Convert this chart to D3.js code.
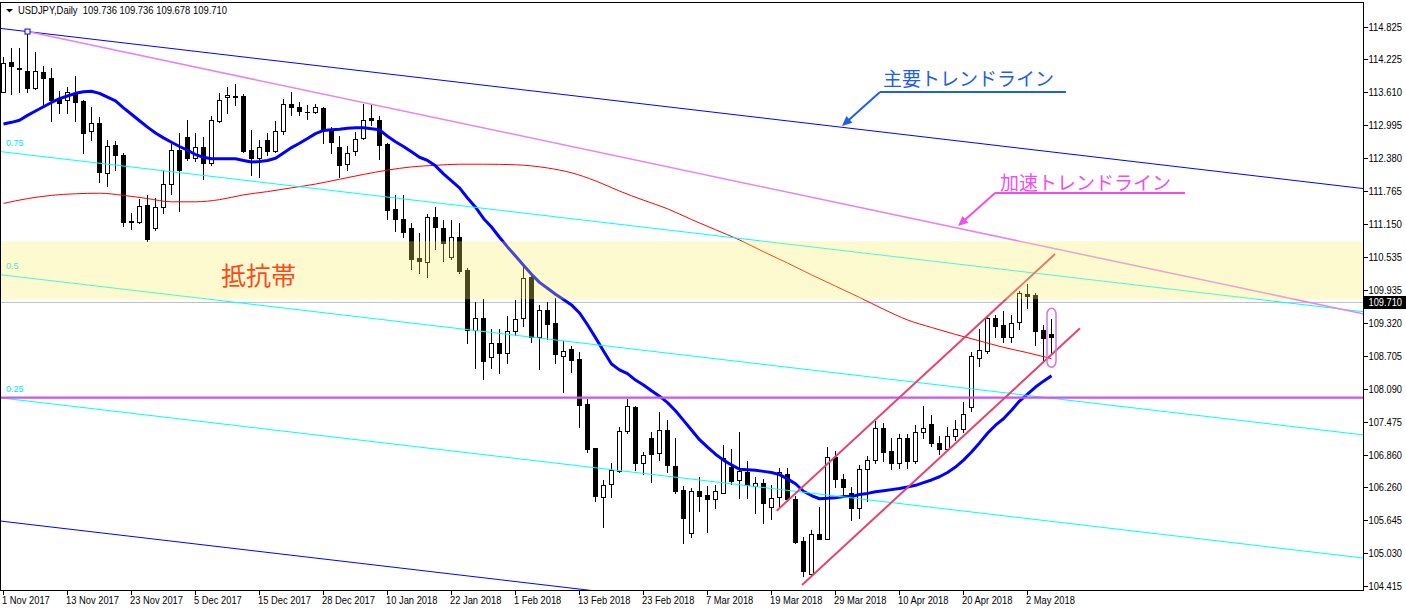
<!DOCTYPE html>
<html><head><meta charset="utf-8">
<script src="https://cdn.jsdelivr.net/npm/d3@7/dist/d3.min.js"></script>
<style>html,body{margin:0;padding:0;background:#fff;overflow:hidden}svg{display:block}</style>
</head><body>
<svg id="chart" width="1406" height="611"></svg>
<script>
// ---------------- DATA ----------------
const symbolHeader = "USDJPY,Daily  109.736 109.736 109.678 109.710";
const xLabels = ["1 Nov 2017","13 Nov 2017","23 Nov 2017","5 Dec 2017","15 Dec 2017","28 Dec 2017","10 Jan 2018","22 Jan 2018","1 Feb 2018","13 Feb 2018","23 Feb 2018","7 Mar 2018","19 Mar 2018","29 Mar 2018","10 Apr 2018","20 Apr 2018","2 May 2018"];
const xLabelBars = [0,8,16,24,32,40,48,56,64,72,80,88,96,104,112,120,128];
const yTicks = [114.825,114.225,113.610,112.995,112.380,111.765,111.150,110.535,109.935,109.320,108.705,108.090,107.475,106.860,106.260,105.645,105.030,104.415];
const lastPrice = 109.710;

const open = [113.62,114.17,114.07,114.01,113.68,113.99,113.87,113.50,113.47,113.59,
113.45,112.89,113.03,112.10,112.62,112.44,111.21,111.19,111.51,111.08,
111.48,111.91,112.54,112.78,112.38,112.59,112.29,113.08,113.52,113.54,
113.54,112.54,112.38,112.72,112.52,112.88,113.39,113.33,113.25,113.24,
113.32,112.88,112.59,112.27,112.52,112.75,113.13,113.09,112.65,111.44,
111.25,111.08,110.52,110.45,111.29,111.08,110.54,110.91,110.30,109.18,
109.41,108.68,108.94,108.75,109.16,109.41,110.17,109.05,109.56,109.31,
108.70,108.83,108.64,107.80,106.99,106.08,106.31,106.56,107.31,107.75,
106.71,107.18,106.89,107.32,106.65,106.20,105.41,106.19,106.11,106.04,
106.15,106.64,106.39,106.53,106.28,106.33,105.88,106.07,106.51,106.04,
105.25,104.63,105.38,105.30,106.82,106.40,106.14,105.86,106.59,106.76,
107.35,106.93,106.71,107.17,106.75,107.28,107.44,107.07,106.97,107.20,
107.33,107.75,108.67,108.80,109.40,109.28,109.05,109.33,109.85,109.83,
109.18,109.11];
const high = [114.27,114.43,114.43,114.74,114.36,114.09,114.07,113.63,113.71,113.91,
113.47,113.34,113.14,112.72,112.70,112.47,111.37,111.62,111.70,111.65,
112.15,112.65,112.85,113.09,112.85,112.78,113.17,113.60,113.71,113.76,
113.58,112.91,112.73,112.85,113.08,113.48,113.61,113.43,113.37,113.39,
113.34,112.97,112.80,112.60,112.87,113.39,113.39,113.17,112.66,111.70,
111.70,111.18,110.99,111.34,111.47,111.23,111.23,111.18,110.34,109.70,
109.76,109.20,109.20,109.44,109.74,110.39,110.21,109.65,109.70,109.78,
108.98,108.89,108.77,107.90,106.99,106.39,106.70,107.38,107.90,107.77,
106.91,107.28,107.66,107.51,107.18,106.28,106.24,106.45,106.28,106.30,
107.04,106.97,107.29,106.75,106.45,106.40,106.29,106.61,106.61,106.10,
105.32,105.45,105.89,107.01,106.93,106.51,106.26,106.67,106.84,107.48,
107.45,107.18,107.25,107.25,107.41,107.77,107.60,107.21,107.38,107.51,
107.85,108.78,109.20,109.46,109.46,109.54,109.46,109.90,110.04,109.87,
109.28,109.38];
const low = [113.61,113.58,113.62,113.62,113.67,113.37,113.08,113.22,113.23,113.08,
112.47,112.73,111.93,111.87,112.16,111.12,111.06,111.18,110.84,111.05,
111.36,111.72,111.39,112.35,112.33,111.99,112.26,113.06,113.23,113.37,
112.50,112.07,112.03,112.44,112.50,112.83,113.19,113.19,113.12,113.22,
112.66,112.47,112.04,112.16,112.44,112.74,113.00,112.36,111.25,111.03,
110.91,110.32,110.24,110.17,110.69,110.47,110.51,110.24,108.94,108.48,
108.27,108.48,108.38,108.57,109.09,109.26,108.96,108.46,109.02,108.57,
108.03,108.40,107.38,106.91,106.00,105.52,106.07,106.54,107.26,106.58,
106.51,106.35,106.76,106.54,106.14,105.22,105.32,105.82,105.43,105.86,
106.14,106.31,106.05,106.05,105.77,105.58,105.66,105.89,106.00,105.22,
104.61,104.61,105.29,105.29,106.26,106.09,105.64,105.68,105.99,106.70,
106.75,106.59,106.61,106.61,106.70,107.18,107.02,106.87,106.96,107.13,
107.28,107.67,108.51,108.76,109.05,108.95,108.95,109.21,109.59,108.90,
108.62,108.74];
const close = [114.16,114.09,114.05,113.68,114.01,113.87,113.47,113.41,113.62,113.43,
112.86,113.03,112.13,112.61,112.44,111.20,111.19,111.49,110.88,111.47,
111.91,112.54,112.16,112.38,112.59,112.29,113.09,113.47,113.55,113.53,
112.52,112.38,112.59,112.52,112.88,113.39,113.33,113.27,113.24,113.34,
112.91,112.68,112.26,112.48,112.74,113.09,113.09,112.63,111.42,111.25,
111.01,110.51,110.47,111.29,111.10,110.80,110.91,110.28,109.18,109.41,
108.61,108.94,108.75,109.16,109.39,110.15,109.05,109.56,109.29,108.74,
108.79,108.63,107.79,106.97,106.09,106.29,106.58,107.30,107.77,106.71,
106.86,106.87,107.32,106.66,106.19,105.69,106.19,106.09,106.03,106.19,
106.79,106.38,106.56,106.30,106.33,105.96,106.06,106.53,106.03,105.23,
104.70,105.38,105.30,106.81,106.40,106.25,105.86,106.59,106.76,107.35,
106.92,106.71,107.17,106.75,107.28,107.35,107.07,106.97,107.20,107.33,
107.62,108.69,108.81,109.40,109.26,109.05,109.31,109.87,109.82,109.17,
109.03,109.06];

// blue moving average, one value per bar
const maBlue = [113.02,113.05,113.09,113.18,113.26,113.34,113.42,113.49,113.54,113.59,
113.62,113.63,113.59,113.52,113.45,113.32,113.20,113.08,112.96,112.85,
112.76,112.68,112.60,112.53,112.45,112.40,112.37,112.37,112.37,112.37,
112.34,112.31,112.32,112.34,112.38,112.48,112.58,112.66,112.75,112.84,
112.90,112.91,112.92,112.94,112.95,112.95,112.93,112.91,112.79,112.69,
112.60,112.50,112.40,112.34,112.24,112.09,111.96,111.83,111.64,111.47,
111.26,111.10,110.91,110.73,110.56,110.39,110.22,110.07,109.96,109.85,
109.75,109.65,109.50,109.28,109.04,108.79,108.55,108.44,108.37,108.25,
108.16,108.05,107.95,107.83,107.68,107.50,107.32,107.14,107.00,106.87,
106.76,106.67,106.59,106.58,106.57,106.55,106.53,106.49,106.41,106.32,
106.18,106.10,106.04,106.05,106.06,106.08,106.08,106.12,106.14,106.17,
106.19,106.21,106.23,106.26,106.29,106.34,106.39,106.45,106.53,106.63,
106.76,106.91,107.08,107.26,107.41,107.53,107.69,107.86,107.99,108.12,
108.23,108.33];

// red moving average, read at these bars
const maRedBars = [0,3,6,9,12,15,18,21,24,27,30,33,36,39,42,45,48,51,54,57,60,64,68,71,74,77,80,83,86,89,92,95,98,101,104,107,110,113,116,119,122,125,128,131];
const maRedVals = [111.54,111.63,111.69,111.72,111.73,111.69,111.63,111.57,111.57,111.61,111.70,111.76,111.83,111.90,111.99,112.08,112.16,112.22,112.25,112.27,112.27,112.26,112.20,112.11,111.96,111.77,111.60,111.44,111.24,111.05,110.86,110.64,110.43,110.21,110.00,109.79,109.57,109.37,109.23,109.10,108.98,108.86,108.76,108.65];

// Fibonacci channel (levels, price at bar 3 and at bar 170)
const fibLevels = ["1","0.75","0.5","0.25","0"];
const fibAtBar3 = [114.740,112.446,110.153,107.860,105.566];
const fibAtBar170 = [111.816,109.523,107.229,104.936,102.643];
const fibLabelPrice = [null,112.609,110.319,108.019,null];

// drawn objects
const accelLine = [[3,114.740],[170,109.483]];
const channelUpper = [[96.65,105.818],[131.44,110.598]];
const channelLower = [[99.81,104.434],[134.56,109.214]];
const focusCapsule = [131,109.587,108.488];
const supportLevel = 107.922;
const resistBand = [110.835,109.754];

const noteMain = {text:"主要トレンドライン", textAt:[109.94,113.727], tail:[109.56,113.615], lineEnd:[132.81,113.615], tip:[104.81,112.982]};
const noteAccel = {text:"加速トレンドライン", textAt:[124.56,111.790], tail:[123.94,111.734], lineEnd:[147.69,111.734], tip:[119.31,111.119]};
const noteBand = {text:"抵抗帯", textAt:[27.19,110.021]};

// ---------------- CHART ----------------
const svg = d3.select("#chart");
const PL = 0.5, PT = 2.5, PR = 1363.5, PB = 590.5;
const x = d3.scaleLinear().domain([0,170]).range([3.5,1363.5]);
const y = d3.scaleLinear().domain([115.328,104.0]).range([0,(115.328-104.0)*53.7]);
const numFont = "Tahoma, 'Liberation Sans', Arial, sans-serif";
const jpFont = "'Noto Sans CJK JP', sans-serif";

svg.append("defs").append("clipPath").attr("id","plotclip")
  .append("rect").attr("x",1).attr("y",3).attr("width",PR-1).attr("height",PB-3);

const plot = svg.append("g").attr("clip-path","url(#plotclip)");

// helper: extend a two-point line between bar a and bar b
function lineBetween(p1,p2,a,b){
  const s=(p2[1]-p1[1])/(p2[0]-p1[0]);
  return [[a,p1[1]+s*(a-p1[0])],[b,p1[1]+s*(b-p1[0])]];
}
const lineGen = d3.line().x(d=>x(d[0])).y(d=>y(d[1]));

// bid line
plot.append("line").attr("x1",0).attr("x2",PR).attr("y1",Math.round(y(lastPrice))+0.5).attr("y2",Math.round(y(lastPrice))+0.5)
  .attr("stroke","#c0c0c0").attr("stroke-width",1);

// candles
const bars = d3.range(open.length).map(i=>({i,o:open[i],h:high[i],l:low[i],c:close[i]}));
const cg = plot.append("g").attr("shape-rendering","crispEdges");
const cand = cg.selectAll("g.c").data(bars).join("g").attr("class","c");
cand.append("rect").attr("x",d=>Math.floor(x(d.i))).attr("width",1)
  .attr("y",d=>Math.round(y(d.h))).attr("height",d=>Math.max(1,Math.round(y(d.l))-Math.round(y(d.h))+1)).attr("fill","#000");
cand.append("rect").attr("x",d=>Math.floor(x(d.i))-2).attr("width",5)
  .attr("y",d=>Math.round(y(Math.max(d.o,d.c))))
  .attr("height",d=>Math.max(1,Math.round(y(Math.min(d.o,d.c)))-Math.round(y(Math.max(d.o,d.c)))+1)).attr("fill","#000");
cand.filter(d=>d.c>d.o && (Math.round(y(d.o))-Math.round(y(d.c)))>=2)
  .append("rect").attr("x",d=>Math.floor(x(d.i))-1).attr("width",3)
  .attr("y",d=>Math.round(y(d.c))+1).attr("height",d=>Math.round(y(d.o))-Math.round(y(d.c))-1).attr("fill","#fff");

// moving averages
plot.append("path").datum(maRedBars.map((b,k)=>[b,maRedVals[k]]))
  .attr("d",d3.line().x(d=>x(d[0])).y(d=>y(d[1])).curve(d3.curveMonotoneX))
  .attr("fill","none").attr("stroke","#ff0000").attr("stroke-width",1);
plot.append("path").datum(maBlue.map((v,k)=>[k,v]))
  .attr("d",lineGen).attr("fill","none").attr("stroke","#0000ff").attr("stroke-width",3).attr("stroke-linejoin","round");

// fibonacci channel
fibLevels.forEach((lv,k)=>{
  const seg=lineBetween([3,fibAtBar3[k]],[170,fibAtBar170[k]],-1,171);
  plot.append("path").attr("d",lineGen(seg)).attr("fill","none")
    .attr("stroke",(lv==="1"||lv==="0")?"#0000ff":"#00ffff").attr("stroke-width",1);
  if(fibLabelPrice[k]!==null){
    plot.append("text").attr("x",x(0.31)).attr("y",y(fibLabelPrice[k])).text(lv)
      .attr("font-family",numFont).attr("font-size",9).attr("fill","#00e5ee");
  }
});

// acceleration trend line
plot.append("path").attr("d",lineGen(lineBetween(accelLine[0],accelLine[1],3,171)))
  .attr("fill","none").attr("stroke","#e884f0").attr("stroke-width",1.5);
// anchor marker
plot.append("rect").attr("x",x(3)-2.5).attr("y",y(accelLine[0][1])-2.5).attr("width",5).attr("height",5)
  .attr("fill","#fff").attr("stroke","#0000ff").attr("stroke-width",1);

// support level
plot.append("line").attr("x1",0).attr("x2",PR).attr("y1",y(supportLevel)).attr("y2",y(supportLevel))
  .attr("stroke","#cc55ee").attr("stroke-width",2.2);

// rising channel
[channelUpper,channelLower].forEach(c=>{
  plot.append("path").attr("d",lineGen(c)).attr("fill","none").attr("stroke","#e6446f").attr("stroke-width",2);
});
// capsule around last bar
plot.append("rect").attr("x",x(focusCapsule[0])-4.5).attr("width",9)
  .attr("y",y(focusCapsule[1])).attr("height",y(focusCapsule[2])-y(focusCapsule[1]))
  .attr("rx",4.5).attr("ry",6).attr("fill","none").attr("stroke","#cc77ee").attr("stroke-width",1.5);

// band label
plot.append("text").attr("x",x(noteBand.textAt[0])).attr("y",y(noteBand.textAt[1])).text(noteBand.text)
  .attr("font-family",jpFont).attr("font-size",25).attr("fill","#ff0000");

// resistance band (translucent overlay)
plot.append("rect").attr("x",1).attr("width",PR-1)
  .attr("y",y(resistBand[0])).attr("height",y(resistBand[1])-y(resistBand[0]))
  .attr("fill","rgb(250,240,100)").attr("fill-opacity",0.3);

// annotations with arrows
function note(n,color){
  const g=svg.append("g");
  g.append("text").attr("x",x(n.textAt[0])).attr("y",y(n.textAt[1])).text(n.text)
    .attr("font-family",jpFont).attr("font-size",19).attr("fill",color);
  g.append("line").attr("x1",x(n.tail[0])).attr("y1",y(n.tail[1])).attr("x2",x(n.lineEnd[0])).attr("y2",y(n.lineEnd[1]))
    .attr("stroke",color).attr("stroke-width",2);
  const tx=x(n.tip[0]),ty=y(n.tip[1]),sx=x(n.tail[0]),sy=y(n.tail[1]);
  const len=Math.hypot(tx-sx,ty-sy),ux=(tx-sx)/len,uy=(ty-sy)/len;
  const bx=tx-ux*10,by=ty-uy*10;
  g.append("line").attr("x1",sx).attr("y1",sy).attr("x2",bx+ux*2).attr("y2",by+uy*2).attr("stroke",color).attr("stroke-width",2);
  g.append("polygon").attr("points",[[tx,ty],[bx-uy*4.5,by+ux*4.5],[bx+uy*4.5,by-ux*4.5]].map(p=>p.join(",")).join(" "))
    .attr("fill",color);
}
note(noteMain,"#1f5fe6");
note(noteAccel,"#f04ff0");

// frame
svg.append("rect").attr("x",PL).attr("y",PT).attr("width",PR-PL).attr("height",PB-PT)
  .attr("fill","none").attr("stroke","#000").attr("stroke-width",1).attr("shape-rendering","crispEdges");

// header
svg.append("path").attr("d","M6,9 L13,9 L9.5,12.5 Z").attr("fill","#000");
const ht = svg.append("text").attr("x",18).attr("y",14).text(symbolHeader)
  .attr("font-family",numFont).attr("font-size",10.5).attr("fill","#000").attr("xml:space","preserve").style("white-space","pre");
ht.attr("textLength",209).attr("lengthAdjust","spacingAndGlyphs");

// y axis
const ya = svg.append("g").attr("shape-rendering","crispEdges");
yTicks.forEach(t=>{
  const yy=Math.round(y(t))+0.5;
  ya.append("line").attr("x1",PR).attr("x2",PR+4).attr("y1",yy).attr("y2",yy).attr("stroke","#000");
  ya.append("text").attr("x",1368.5).attr("y",yy+3.6).text(t.toFixed(3))
    .attr("font-family",numFont).attr("font-size",10).attr("fill","#000")
    .attr("textLength",33.5).attr("lengthAdjust","spacingAndGlyphs");
});
const by0=Math.round(y(lastPrice));
svg.append("rect").attr("x",1364).attr("y",by0-6).attr("width",42).attr("height",13).attr("fill","#000");
svg.append("text").attr("x",1368.5).attr("y",by0+4.1).text(lastPrice.toFixed(3))
  .attr("font-family",numFont).attr("font-size",10).attr("fill","#fff")
  .attr("textLength",33.5).attr("lengthAdjust","spacingAndGlyphs");

// x axis
const xa = svg.append("g").attr("shape-rendering","crispEdges");
xLabelBars.forEach((b,k)=>{
  const xx=Math.floor(x(b))+0.5;
  xa.append("line").attr("x1",xx).attr("x2",xx).attr("y1",PB).attr("y2",PB+4).attr("stroke","#000");
  const t=xa.append("text").attr("x",xx-1.5).attr("y",603.5).text(xLabels[k])
    .attr("font-family",numFont).attr("font-size",10).attr("fill","#000");
  const L=t.node().getComputedTextLength();
  t.attr("textLength",L*0.935).attr("lengthAdjust","spacingAndGlyphs");
});
</script>
</body></html>
